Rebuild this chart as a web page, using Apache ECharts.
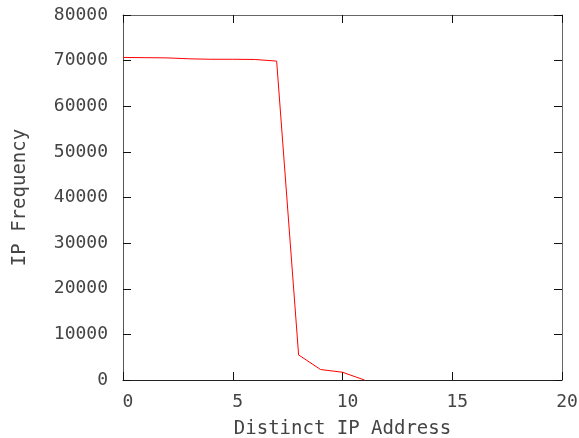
<!DOCTYPE html>
<html><head><meta charset="utf-8">
<script src="https://cdn.jsdelivr.net/npm/echarts@6/dist/echarts.min.js"></script>
<style>html,body{margin:0;padding:0;background:#fff}#c{width:579px;height:438px}</style>
</head><body><div id="c"></div>
<script>
const xValues = [0, 1, 2, 3, 4, 5, 6, 7, 8, 9, 10, 11];
const ipFrequency = [70700, 70650, 70600, 70400, 70300, 70300, 70250, 69900, 5500, 2300, 1700, 0];
const xTicks = [0, 5, 10, 15, 20];
const yTicks = [0, 10000, 20000, 30000, 40000, 50000, 60000, 70000, 80000];

const font = 'DejaVu Sans Mono';
const textColor = '#444';
const chart = echarts.init(document.getElementById('c'));
const tick = () => ({show: true, inside: true, length: 8, lineStyle: {color: '#111', width: 1}});
chart.setOption({
  animation: false,
  grid: {left: 123, top: 15, right: 17, bottom: 58, containLabel: false, outerBoundsMode: 'none'},
  xAxis: [{
    type: 'value', min: xTicks[0], max: xTicks[xTicks.length-1], interval: 5,
    name: 'Distinct IP Address', nameLocation: 'middle', nameGap: 40,
    nameTextStyle: {fontFamily: font, fontSize: 19, color: textColor},
    axisLine: {show: true, onZero: false, lineStyle: {color: '#222'}},
    axisTick: tick(),
    axisLabel: {fontFamily: font, fontSize: 18, color: textColor, margin: 13, padding: [0, 0, 0, 10],
      formatter: v => String(v)},
    splitLine: {show: false}
  }, {
    type: 'value', position: 'top', min: xTicks[0], max: xTicks[xTicks.length-1], interval: 5,
    axisLine: {show: true, onZero: false, lineStyle: {color: '#666'}},
    axisTick: tick(), axisLabel: {show: false}, splitLine: {show: false}
  }],
  yAxis: [{
    type: 'value', min: yTicks[0], max: yTicks[yTicks.length-1], interval: 10000,
    name: 'IP Frequency', nameLocation: 'middle', nameGap: 93,
    nameTextStyle: {fontFamily: font, fontSize: 19, color: textColor},
    axisLine: {show: true, onZero: false, lineStyle: {color: '#555'}},
    axisTick: tick(),
    axisLabel: {fontFamily: font, fontSize: 18, color: textColor, margin: 15,
      formatter: v => String(v)},
    splitLine: {show: false}
  }, {
    type: 'value', position: 'right', min: yTicks[0], max: yTicks[yTicks.length-1], interval: 10000,
    axisLine: {show: true, onZero: false, lineStyle: {color: '#666'}},
    axisTick: tick(), axisLabel: {show: false}, splitLine: {show: false}
  }],
  series: [{
    type: 'line', xAxisIndex: 0, yAxisIndex: 0,
    data: xValues.map((x, i) => [x, ipFrequency[i]]),
    showSymbol: false, symbol: 'none',
    lineStyle: {color: '#ff0000', width: 1}
  }]
});
</script></body></html>
